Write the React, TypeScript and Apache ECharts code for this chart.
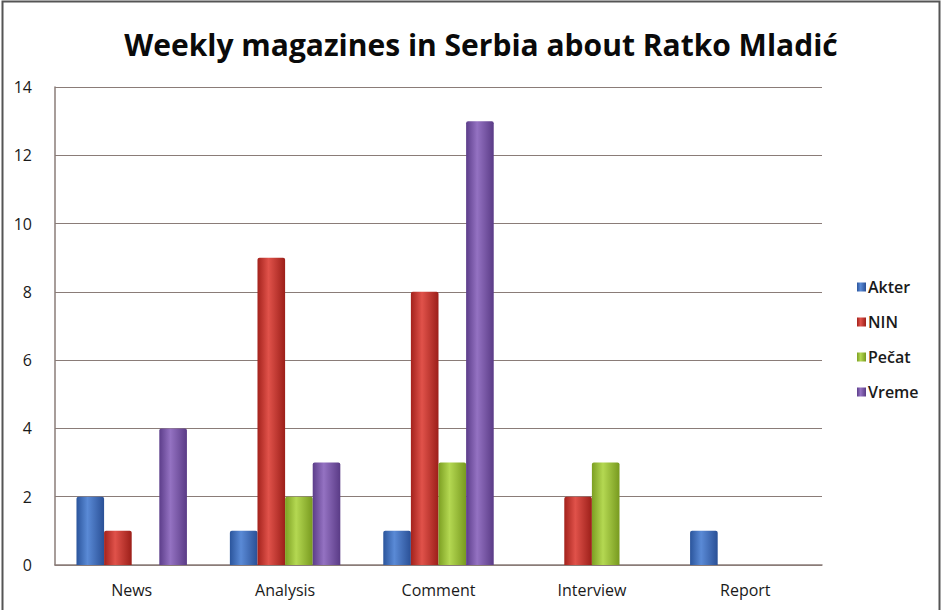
import React, { useEffect, useRef } from "react";
import * as echarts from "echarts";

const categories = ["News", "Analysis", "Comment", "Interview", "Report"];
const seriesNames = ["Akter", "NIN", "Pečat", "Vreme"];
const akter = [2, 1, 1, 0, 1];
const nin = [1, 9, 8, 2, 0];
const pecat = [0, 2, 3, 3, 0];
const vreme = [4, 3, 13, 0, 0];
const yTicks = { min: 0, max: 14, interval: 2 };

const palettes = [
  ["#2b559c", "#5a8ad6", "#2a5096"],
  ["#a3221c", "#e0524a", "#9c1f19"],
  ["#7c9f22", "#b4d852", "#789a1f"],
  ["#5c3d8a", "#9472c2", "#5a3b86"],
];

function grad(p: string[]) {
  return new echarts.graphic.LinearGradient(0, 0, 1, 0, [
    { offset: 0, color: p[0] },
    { offset: 0.4, color: p[1] },
    { offset: 1, color: p[2] },
  ]);
}

export default function App() {
  const ref = useRef<HTMLDivElement>(null);
  useEffect(() => {
    if (!ref.current) return;
    const chart = echarts.init(ref.current, undefined, { renderer: "svg" });
    const data = [akter, nin, pecat, vreme];
    chart.setOption({
      animation: false,
      backgroundColor: "#ffffff",
      title: {
        text: "Weekly magazines in Serbia about Ratko Mladić",
        left: 476,
        textAlign: "center",
        top: 24,
        textStyle: {
          fontFamily: "Open Sans",
          fontWeight: 700,
          fontSize: 30,
          color: "#0a0a0a",
        },
      },
      legend: {
        orient: "vertical",
        left: 852,
        top: 274,
        itemWidth: 9,
        itemHeight: 9,
        itemGap: 19,
        icon: "rect",
        textStyle: { fontFamily: "Open Sans", fontSize: 16, fontWeight: 600, color: "#1a1a1a", padding: [0, 0, 0, -3] },
        data: seriesNames,
      },
      grid: { left: 55, right: 120, top: 87, bottom: 45, containLabel: false },
      xAxis: {
        type: "category",
        data: categories,
        axisLine: { lineStyle: { color: "#8a7c78", width: 1.5 } },
        axisTick: { show: false },
        axisLabel: { fontFamily: "Open Sans", fontSize: 16, color: "#1a1a1a", margin: 17 },
      },
      yAxis: {
        type: "value",
        min: yTicks.min,
        max: yTicks.max,
        interval: yTicks.interval,
        axisLine: { show: true, lineStyle: { color: "#8a7c78", width: 1.5 } },
        axisTick: { show: false },
        splitLine: { lineStyle: { color: "#8a7c78", width: 1.2 } },
        axisLabel: { fontFamily: "Open Sans", fontSize: 16, color: "#1a1a1a", margin: 23 },
      },
      graphic: [
        {
          type: "rect",
          shape: { x: 2.5, y: 1.5, width: 937, height: 640 },
          style: { fill: "none", stroke: "#555", lineWidth: 2 },
          silent: true,
        },
      ],
      series: seriesNames.map((name, i) => ({
        name,
        type: "bar",
        data: data[i],
        barGap: "0%",
        barCategoryGap: "28%",
        itemStyle: { color: grad(palettes[i]), borderRadius: [2, 2, 0, 0] },
      })),
    });
    return () => chart.dispose();
  }, []);
  return (
    <div
      ref={ref}
      style={{ position: "fixed", left: 0, top: 0, width: 942, height: 610 }}
    />
  );
}
